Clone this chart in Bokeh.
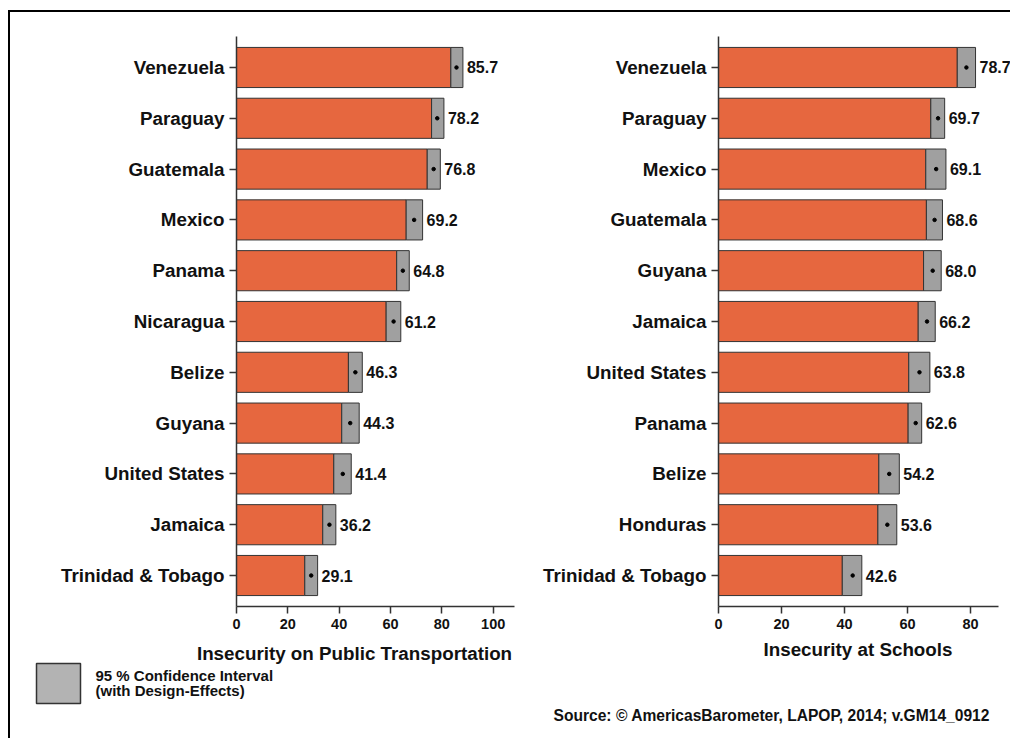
from bokeh.plotting import figure
from bokeh.models import FactorRange, Range1d, FixedTicker, ColumnDataSource
from bokeh.layouts import row, column
from bokeh.core.properties import value
from bokeh.embed import file_html
from bokeh.resources import INLINE

# ---------------- data ----------------
transport_countries = ["Venezuela", "Paraguay", "Guatemala", "Mexico", "Panama", "Nicaragua",
                       "Belize", "Guyana", "United States", "Jamaica", "Trinidad & Tobago"]
transport_means = [85.7, 78.2, 76.8, 69.2, 64.8, 61.2, 46.3, 44.3, 41.4, 36.2, 29.1]
transport_lower = [83.5, 76.0, 74.3, 66.1, 62.4, 58.3, 43.6, 41.0, 37.9, 33.6, 26.6]
transport_upper = [88.2, 80.8, 79.4, 72.5, 67.3, 64.0, 49.0, 47.8, 44.7, 38.7, 31.6]
transport_ticks = [0, 20, 40, 60, 80, 100]
transport_title = "Insecurity on Public Transportation"

school_countries = ["Venezuela", "Paraguay", "Mexico", "Guatemala", "Guyana", "Jamaica",
                    "United States", "Panama", "Belize", "Honduras", "Trinidad & Tobago"]
school_means = [78.7, 69.7, 69.1, 68.6, 68.0, 66.2, 63.8, 62.6, 54.2, 53.6, 42.6]
school_lower = [75.8, 67.4, 65.8, 66.0, 65.1, 63.4, 60.4, 60.2, 50.9, 50.6, 39.3]
school_upper = [81.6, 71.8, 72.2, 71.1, 70.7, 68.8, 67.1, 64.5, 57.4, 56.6, 45.5]
school_ticks = [0, 20, 40, 60, 80]
school_title = "Insecurity at Schools"

legend_lines = ["95 % Confidence Interval", "(with Design-Effects)"]
source_text = "Source: \u00a9 AmericasBarometer, LAPOP, 2014; v.GM14_0912"

# ---------------- style ----------------
FONT = "Liberation Sans"
ORANGE = "#E6673F"
CI_GRAY = "#A0A0A0"
LEG_GRAY = "#B3B3B3"
EDGE = "#333333"
TXT = "#111111"
CANVAS_LEFT, CANVAS_TOP = 10, 12          # page pixels of the content origin
FRAME_TOP, FRAME_BOTTOM = 36, 606
PANEL_BOTTOM = 638
FOOT_BOTTOM = 738
PAD = 0.11


def make_panel(countries, means, lower, upper, ticks, canvas_left, canvas_right,
               x0_px, px_per_unit, axis_end):
    width = canvas_right - canvas_left
    x_end = (canvas_right - x0_px) / px_per_unit
    src = ColumnDataSource(dict(
        country=countries, mean=means, lower=lower, upper=upper,
        label=["%.1f" % m for m in means]))
    p = figure(width=width, height=PANEL_BOTTOM - CANVAS_TOP,
               y_range=FactorRange(factors=list(reversed(countries)),
                                   range_padding=PAD, range_padding_units="absolute"),
               x_range=Range1d(0, x_end),
               output_backend="svg", toolbar_location=None,
               min_border_left=x0_px - canvas_left, min_border_right=0,
               min_border_top=FRAME_TOP - CANVAS_TOP,
               min_border_bottom=PANEL_BOTTOM - FRAME_BOTTOM)
    p.outline_line_color = None
    p.xgrid.visible = False
    p.ygrid.visible = False

    p.hbar(y="country", left=0, right="lower", height=0.79, source=src,
           fill_color=ORANGE, line_color=EDGE, line_width=1)
    p.hbar(y="country", left="lower", right="upper", height=0.79, source=src,
           fill_color=CI_GRAY, line_color=EDGE, line_width=1)
    p.scatter(x="mean", y="country", marker="circle", size=3.5, source=src,
              fill_color="black", line_color="black")
    p.text(x="upper", y="country", text="label", source=src, x_offset=4,
           text_align="left", text_baseline="middle",
           text_font=value(FONT), text_font_style="bold", text_font_size="16px",
           text_color=TXT)

    xa = p.xaxis[0]
    xa.ticker = FixedTicker(ticks=ticks)
    xa.bounds = (0, axis_end)
    xa.minor_tick_line_color = None
    xa.major_tick_out = 7
    xa.major_tick_in = 0
    xa.major_label_standoff = 5
    xa.major_label_text_font = FONT
    xa.major_label_text_font_style = "bold"
    xa.major_label_text_font_size = "14.5px"
    xa.major_label_text_color = TXT
    xa.axis_line_color = EDGE
    xa.axis_line_width = 1.5
    xa.major_tick_line_color = EDGE
    xa.major_tick_line_width = 1.5

    ya = p.yaxis[0]
    ya.major_tick_out = 7
    ya.major_tick_in = 0
    ya.major_label_standoff = 5
    ya.major_label_text_font = FONT
    ya.major_label_text_font_style = "bold"
    ya.major_label_text_font_size = "18.8px"
    ya.major_label_text_color = TXT
    ya.axis_line_color = EDGE
    ya.axis_line_width = 1.5
    ya.major_tick_line_color = EDGE
    ya.major_tick_line_width = 1.5
    return p


SPLIT = 528
RIGHT = 1010
p1 = make_panel(transport_countries, transport_means, transport_lower,
                transport_upper, transport_ticks, CANVAS_LEFT, SPLIT, 236, 2.567, 108.3)
p2 = make_panel(school_countries, school_means, school_lower,
                school_upper, school_ticks, SPLIT, RIGHT, 718, 3.15, 88.8)

# footer strip: axis titles, legend key and source note (page-pixel coordinates)
foot = figure(width=RIGHT - CANVAS_LEFT, height=FOOT_BOTTOM - PANEL_BOTTOM,
              x_range=Range1d(CANVAS_LEFT, RIGHT), y_range=Range1d(FOOT_BOTTOM, PANEL_BOTTOM),
              x_axis_type=None, y_axis_type=None, output_backend="svg",
              toolbar_location=None, min_border=0)
foot.outline_line_color = None
foot.xgrid.visible = False
foot.ygrid.visible = False

title_kw = dict(text_align="center", text_baseline="middle", text_font=value(FONT),
                text_font_style="bold", text_font_size="18.8px", text_color=TXT)
foot.text(x=[354], y=[652.7], text=[transport_title], **title_kw)
foot.text(x=[857.5], y=[649], text=[school_title], **title_kw)

foot.quad(left=[36], right=[80], top=[663], bottom=[703],
          fill_color=LEG_GRAY, line_color=EDGE, line_width=1.5)
foot.text(x=[95, 95], y=[675, 690], text=legend_lines, text_align="left",
          text_baseline="middle", text_font=value(FONT), text_font_style="bold",
          text_font_size="15px", text_color=TXT)
foot.text(x=[553], y=[715], text=[source_text], text_align="left",
          text_baseline="middle", text_font=value(FONT), text_font_style="bold",
          text_font_size="15.6px", text_color=TXT)

layout = column(row(p1, p2), foot,
                styles={"border-top": "2px solid #000000",
                        "border-left": "2px solid #000000",
                        "margin-top": "10px", "margin-left": "8px"})

open("out.html", "w").write(file_html(layout, INLINE))
